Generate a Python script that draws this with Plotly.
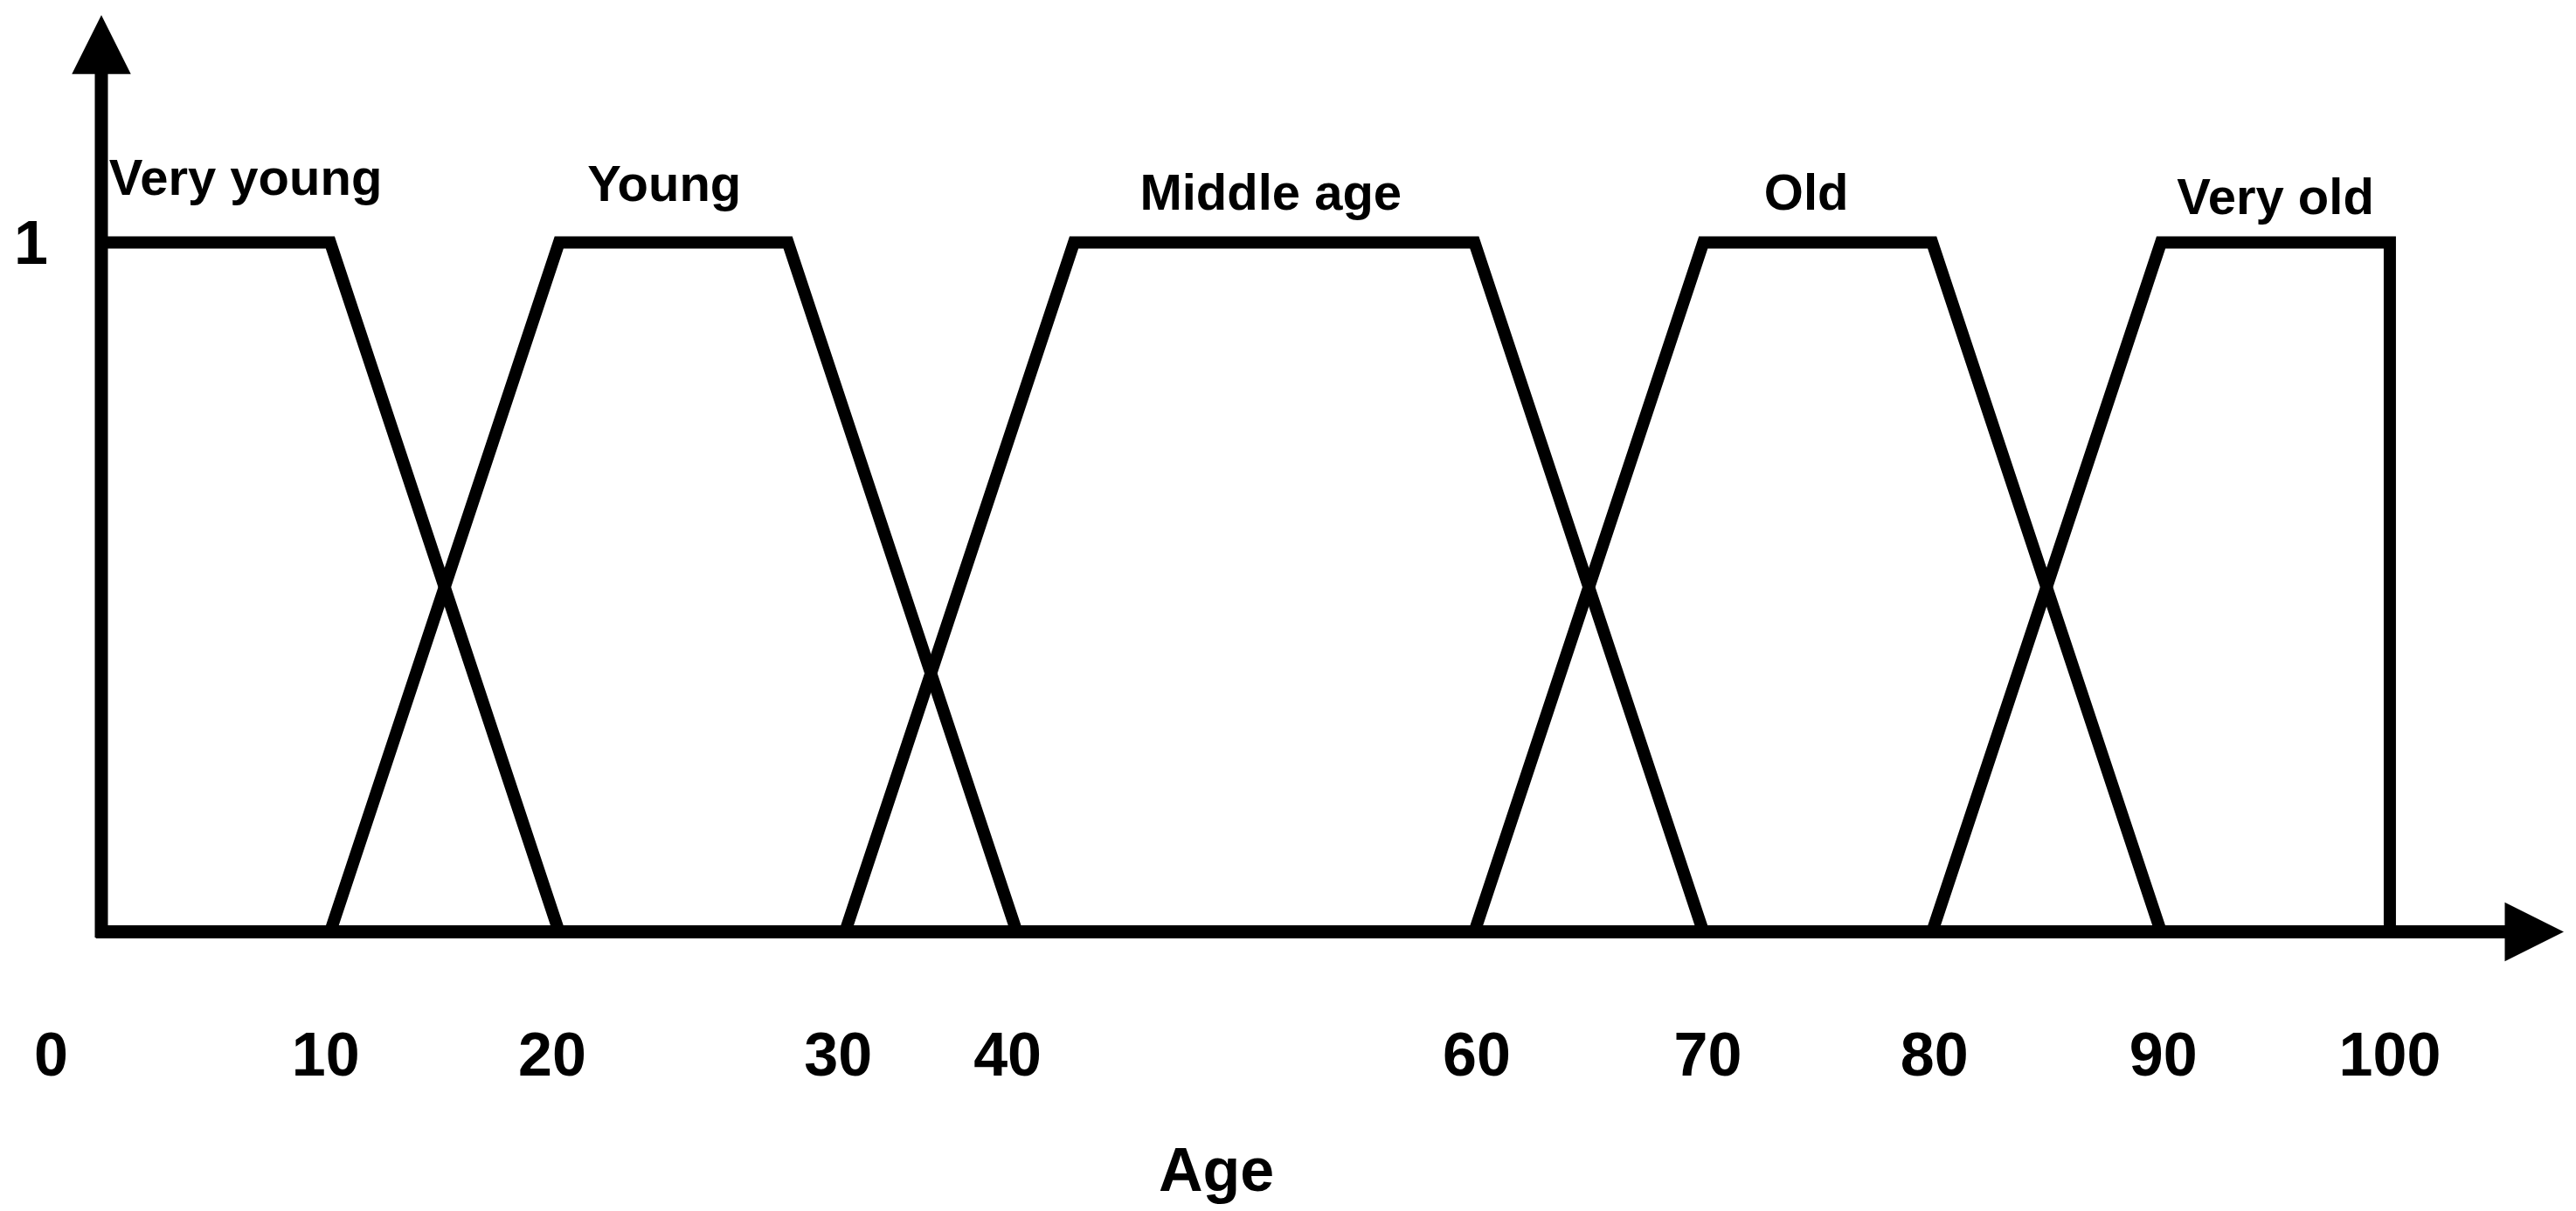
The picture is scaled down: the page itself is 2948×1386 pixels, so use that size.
import plotly.graph_objects as go

# membership functions for age (breakpoints)
ages_very_young = [0, 10, 20]
mu_very_young = [1, 1, 0]
ages_young = [10, 20, 30, 40]
mu_young = [0, 1, 1, 0]
ages_middle = [32.5, 42.5, 60, 70]
mu_middle = [0, 1, 1, 0]
ages_old = [60, 70, 80, 90]
mu_old = [0, 1, 1, 0]
ages_very_old = [80, 90, 100, 100]
mu_very_old = [0, 1, 1, 0]

set_names = ["Very young", "Young", "Middle age", "Old", "Very old"]
label_ages = [6.3, 24.6, 51.1, 74.5, 95.0]
label_mu = [1.088, 1.078, 1.066, 1.066, 1.060]

tick_ages = [-2.2, 9.8, 19.7, 32.2, 39.6, 60.1, 70.2, 80.1, 90.1, 100]
tick_labels = ["0", "10", "20", "30", "40", "60", "70", "80", "90", "100"]

FONT = "Liberation Sans, Arial, sans-serif"
# page body has an 8px margin, so the figure is a little smaller than the window
W, H = 2932, 1370
ORIGIN_PX = 108  # x pixel of age 0 inside the figure

fig = go.Figure()
for xs, ys in [
    (ages_very_young, mu_very_young),
    (ages_young, mu_young),
    (ages_middle, mu_middle),
    (ages_old, mu_old),
    (ages_very_old, mu_very_old),
]:
    fig.add_trace(
        go.Scatter(
            x=xs,
            y=ys,
            mode="lines",
            line={"color": "black", "width": 14},
            hoverinfo="skip",
            showlegend=False,
        )
    )

fig.add_trace(
    go.Scatter(
        x=label_ages,
        y=label_mu,
        mode="text",
        text=[f"<b>{s}</b>" for s in set_names],
        textposition="middle center",
        textfont={"family": FONT, "size": 58, "color": "black"},
        hoverinfo="skip",
        showlegend=False,
        cliponaxis=False,
    )
)

# axis arrows
arrow = {
    "showarrow": True,
    "text": "",
    "arrowhead": 2,
    "arrowwidth": 15,
    "arrowsize": 0.9,
    "arrowcolor": "black",
    "xref": "x",
    "yref": "y",
    "axref": "x",
    "ayref": "y",
}
fig.add_annotation(x=107.6, y=0, ax=-0.3, ay=0, **arrow)
fig.add_annotation(x=0, y=1.33, ax=0, ay=-0.01, **arrow)

fig.add_annotation(
    x=1384 / W,
    y=-0.212,
    xref="paper",
    yref="paper",
    text="<b>Age</b>",
    showarrow=False,
    font={"family": FONT, "size": 70, "color": "black"},
    xanchor="center",
    yanchor="middle",
)

fig.update_layout(
    width=W,
    height=H,
    margin={"l": 0, "r": 0, "t": 0, "b": 272},
    paper_bgcolor="white",
    plot_bgcolor="white",
    font={"family": FONT, "color": "black"},
    xaxis={
        "range": [-4.124, 107.83],
        "showgrid": False,
        "zeroline": False,
        "showline": False,
        "tickmode": "array",
        "tickvals": tick_ages,
        "ticktext": [f"<b>{t}</b>" for t in tick_labels],
        "ticks": "outside",
        "ticklen": 40,
        "tickcolor": "rgba(0,0,0,0)",
        "tickfont": {"family": FONT, "size": 70, "color": "black"},
    },
    yaxis={
        "range": [-0.05, 1.3416],
        "anchor": "free",
        "position": ORIGIN_PX / W,
        "showgrid": False,
        "zeroline": False,
        "showline": False,
        "tickmode": "array",
        "tickvals": [1],
        "ticktext": ["<b>1</b>"],
        "ticks": "outside",
        "ticklen": 47,
        "tickcolor": "rgba(0,0,0,0)",
        "tickfont": {"family": FONT, "size": 70, "color": "black"},
    },
)

fig.write_html("out.html")
